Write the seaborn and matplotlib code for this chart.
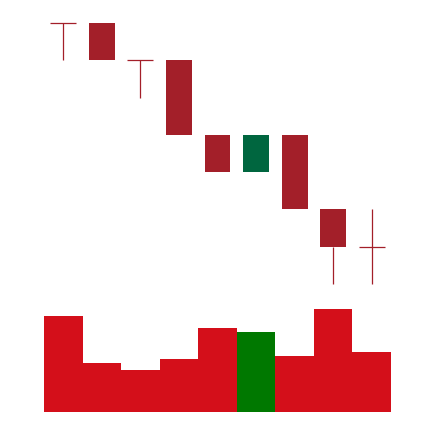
import matplotlib
matplotlib.use("Agg")
import matplotlib.pyplot as plt
import seaborn as sns
import numpy as np
import pandas as pd

# price data (arbitrary units)
opens = [10, 10, 9, 9, 7, 6, 7, 5, 4]
highs = [10, 10, 9, 9, 7, 7, 7, 5, 5]
lows = [9, 9, 8, 7, 6, 6, 5, 3, 3]
closes = [10, 9, 9, 7, 6, 7, 5, 4, 4]
volumes = [96, 49, 42, 53, 84, 80, 56, 103, 60]

up_body = "#00663f"
down_body = "#a31f29"
up_vol = "#007800"
down_vol = "#d40f1a"

sns.set_theme(style="white")

fig = plt.figure(figsize=(4.34, 4.22), dpi=100)
fig.patch.set_facecolor("white")

left, width = 44 / 434, 347 / 434
ax_price = fig.add_axes([left, (422 - 300) / 422, width, 296 / 422])
ax_vol = fig.add_axes([left, (422 - 412) / 422, width, 112 / 422])

# candlesticks
w = 0.67
for i, (o, h, l, c) in enumerate(zip(opens, highs, lows, closes)):
    col = up_body if c > o else down_body
    lo_b, hi_b = min(o, c), max(o, c)
    # wicks only outside of the body
    if l < lo_b:
        ax_price.vlines(i, l, lo_b, color=col, linewidth=0.9, zorder=1)
    if h > hi_b:
        ax_price.vlines(i, hi_b, h, color=col, linewidth=0.9, zorder=1)
    if o == c:
        ax_price.hlines(o, i - w / 2, i + w / 2, color=col, linewidth=0.9, zorder=2)
    else:
        ax_price.bar(i, hi_b - lo_b, bottom=lo_b, width=w, color=col, linewidth=0, zorder=3)

ax_price.set_xlim(-0.5, 8.5)
ax_price.set_ylim(2.572, 10.51)

# volume bars
df = pd.DataFrame({
    "idx": np.arange(len(volumes)),
    "volume": volumes,
    "dir": ["up" if c > o else "down" for o, c in zip(opens, closes)],
})
sns.barplot(data=df, x="idx", y="volume", hue="dir", palette={"up": up_vol, "down": down_vol},
            width=1.0, dodge=False, legend=False, linewidth=0, saturation=1, ax=ax_vol)
ax_vol.set_xlim(-0.5, 8.5)
ax_vol.set_ylim(0, 112)

for ax in (ax_price, ax_vol):
    ax.set_axis_off()

fig.savefig("out.png", dpi=100, facecolor="white")
